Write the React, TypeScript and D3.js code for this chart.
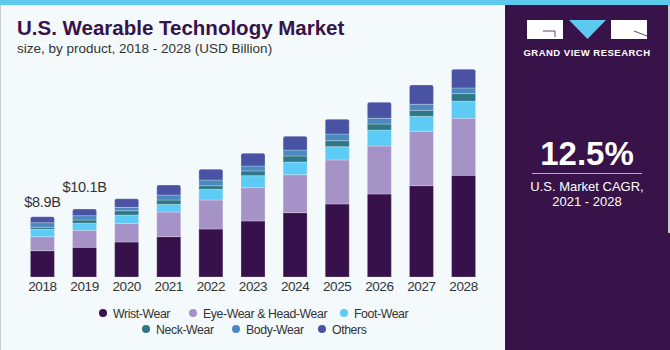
import * as d3 from 'd3'

const years = ['2018', '2019', '2020', '2021', '2022', '2023', '2024', '2025', '2026', '2027', '2028']
const products = ['Wrist-Wear', 'Eye-Wear & Head-Wear', 'Foot-Wear', 'Neck-Wear', 'Body-Wear', 'Others']
const colors = ['#37114b', '#a592c6', '#5ccbf5', '#2f7787', '#4b88c0', '#4a53a3']

// values in USD billion
const wristWear = [3.9, 4.41, 5.19, 5.98, 7.12, 8.31, 9.54, 10.83, 12.31, 13.55, 15.09]
const eyeWear = [2.08, 2.52, 2.77, 3.66, 4.3, 4.94, 5.64, 6.53, 7.12, 8.06, 8.46]
const footWear = [1.1, 1.04, 1.23, 1.14, 1.59, 1.78, 1.88, 1.97, 2.37, 2.23, 2.52]
const neckWear = [0.3, 0.49, 0.64, 0.64, 0.53, 0.7, 0.89, 0.89, 0.89, 0.89, 1.13]
const bodyWear = [0.68, 0.64, 0.5, 0.74, 0.85, 0.74, 0.89, 0.99, 0.85, 0.89, 0.85]
const others = [0.89, 0.99, 1.28, 1.48, 1.59, 1.88, 2.03, 2.18, 2.37, 2.86, 2.77]

const valueLabels = ['$8.9B', '$10.1B']

const series = [wristWear, eyeWear, footWear, neckWear, bodyWear, others]

const W = 670
const H = 350
const font = '"Liberation Sans", Arial, sans-serif'

export default function App() {
  const rows = years.map((year, i) => {
    const row: any = { year }
    products.forEach((p, k) => (row[p] = series[k][i]))
    return row
  })

  const stacked = d3.stack<any>().keys(products)(rows)

  const x = d3.scaleBand().domain(years).range([22, 484]).paddingInner(0.43).paddingOuter(0.2)
  const y = d3.scaleLinear().domain([0, 31]).range([277, 68])

  const legendRow1 = [
    { i: 0, cx: 103 },
    { i: 1, cx: 193 },
    { i: 2, cx: 344 },
  ]
  const legendRow2 = [
    { i: 3, cx: 146 },
    { i: 4, cx: 236 },
    { i: 5, cx: 322 },
  ]

  return (
    <svg width={W} height={H} style={{ position: 'absolute', left: 0, top: 0, display: 'block' }}>
      <rect x={0} y={0} width={W} height={H} fill="#f4f9fc" />
      <rect x={0} y={0} width={1} height={H} fill="#c9ccd0" />
      {/* right panel */}
      <rect x={505} y={0} width={165} height={H} fill="#38134a" />
      <rect x={668} y={5} width={2} height={228} fill="#c9c6cf" />
      <rect x={0} y={0} width={W} height={5} fill="#5ec9ef" />

      {/* title */}
      <text x={17} y={35} fontFamily={font} fontWeight="bold" fontSize={20.5} fill="#37134a">
        U.S. Wearable Technology Market
      </text>
      <text x={17} y={53} fontFamily={font} fontSize={13.5} fill="#333">
        size, by product, 2018 - 2028 (USD Billion)
      </text>

      {/* bars */}
      {stacked.map((layer, k) => (
        <g key={products[k]} fill={colors[k]}>
          {layer.map((d, i) => {
            const isTop = k === products.length - 1
            const x0 = x(years[i])!
            const bw = x.bandwidth()
            const y0 = y(d[1])
            const h = y(d[0]) - y(d[1])
            if (isTop) {
              const r = 2
              const path = `M${x0},${y0 + h} V${y0 + r} Q${x0},${y0} ${x0 + r},${y0} H${x0 + bw - r} Q${x0 + bw},${y0} ${x0 + bw},${y0 + r} V${y0 + h} Z`
              return <path key={i} d={path} stroke="#ffffff" strokeOpacity={0.25} strokeWidth={1} />
            }
            return (
              <rect key={i} x={x0} y={y0} width={bw} height={h} stroke="#ffffff" strokeOpacity={0.25} strokeWidth={1} />
            )
          })}
        </g>
      ))}

      {/* value labels */}
      {valueLabels.map((t, i) => {
        const top = stacked[stacked.length - 1][i][1]
        return (
          <text
            key={t}
            x={x(years[i])! + x.bandwidth() / 2}
            y={y(top) - (i === 0 ? 10 : 17)}
            textAnchor="middle"
            fontFamily={font}
            fontSize={14.5}
            letterSpacing={-0.3}
            fill="#333"
          >
            {t}
          </text>
        )
      })}

      {/* x axis labels */}
      {years.map(yr => (
        <text
          key={yr}
          x={x(yr)! + x.bandwidth() / 2}
          y={291}
          textAnchor="middle"
          fontFamily={font}
          fontSize={13.5}
          letterSpacing={-0.4}
          fill="#333"
        >
          {yr}
        </text>
      ))}

      {/* legend */}
      {[legendRow1, legendRow2].map((row, r) =>
        row.map(item => (
          <g key={item.i} transform={`translate(${item.cx},${313 + r * 16})`}>
            <circle cx={0} cy={0} r={4} fill={colors[item.i]} />
            <text x={10} y={4.5} fontFamily={font} fontSize={12.3} letterSpacing={-0.4} fill="#333">
              {products[item.i]}
            </text>
          </g>
        ))
      )}

      {/* logo */}
      <rect x={527} y={20} width={36} height={19} fill="#ffffff" />
      <path d="M543,31 H555 V37" fill="none" stroke="#38134a" strokeWidth={0.8} />
      <path d="M569,20 H606 L587.5,39 Z" fill="#5ec9ef" />
      <rect x={611} y={20} width={36} height={19} fill="#ffffff" />
      <path d="M634,31 L647,36" fill="none" stroke="#38134a" strokeWidth={0.8} />
      <text
        x={587}
        y={56}
        textAnchor="middle"
        fontFamily={font}
        fontWeight="bold"
        fontSize={9.5}
        letterSpacing={0.5}
        fill="#ffffff"
      >
        GRAND VIEW RESEARCH
      </text>

      {/* CAGR */}
      <text x={587} y={165} textAnchor="middle" fontFamily={font} fontWeight="bold" fontSize={33} fill="#ffffff">
        12.5%
      </text>
      <line x1={532} x2={642} y1={173.5} y2={173.5} stroke="#b9b0c2" strokeWidth={1} />
      <text x={587} y={191} textAnchor="middle" fontFamily={font} fontSize={13} fill="#ffffff">
        U.S. Market CAGR,
      </text>
      <text x={587} y={206} textAnchor="middle" fontFamily={font} fontSize={13} fill="#ffffff">
        2021 - 2028
      </text>
    </svg>
  )
}
